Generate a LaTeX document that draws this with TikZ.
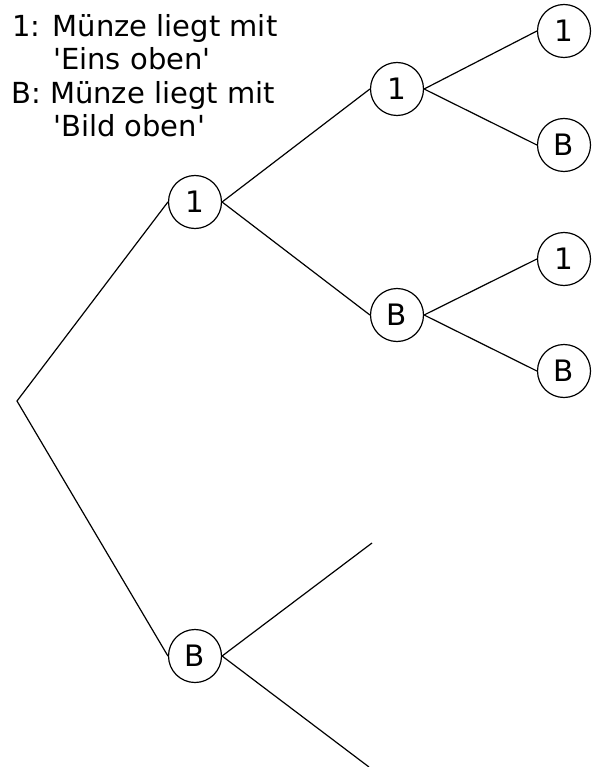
\documentclass[tikz,border=0pt]{standalone}
\usepackage{fontspec}
\setmainfont{DejaVu Sans}
\begin{document}
\begin{tikzpicture}[x=1pt,y=-1pt,
  coin/.style={circle,draw,line width=1.2pt,minimum size=53pt,inner sep=0pt,font=\fontsize{29.5}{35}\selectfont},
  branch/.style={line width=1.2pt},
  legend/.style={anchor=base west,inner sep=0pt,font=\fontsize{29}{35}\selectfont}]
\useasboundingbox (0,0) rectangle (593,767);
% legend
\node[legend] (l1) at (12,37) {1: Münze liegt mit};
\node[legend] (l2) at (53,70) {\textquotesingle Eins oben\textquotesingle};
\node[legend] (l3) at (11,104) {B: Münze liegt mit};
\node[legend] (l4) at (53,137) {\textquotesingle Bild oben\textquotesingle};
% tree
\coordinate (root) at (17,401);
\node[coin] (a1) at (195,202) {1};
\node[coin] (aB) at (195,656) {B};
\node[coin] (b1) at (397,89) {1};
\node[coin] (bB) at (397,315) {B};
\node[coin] (c1) at (564,31) {1};
\node[coin] (c2) at (564,145) {B};
\node[coin] (c3) at (564,259) {1};
\node[coin] (c4) at (564,371) {B};
\coordinate (e1) at (372,543);
\coordinate (e2) at (369,767);
\draw[branch] (a1.west) -- (root) -- (aB.west);
\draw[branch] (b1.west) -- (a1.east) -- (bB.west);
\draw[branch] (c1.west) -- (b1.east) -- (c2.west);
\draw[branch] (c3.west) -- (bB.east) -- (c4.west);
\draw[branch] (e1) -- (aB.east) -- (e2);
\end{tikzpicture}
\end{document}
